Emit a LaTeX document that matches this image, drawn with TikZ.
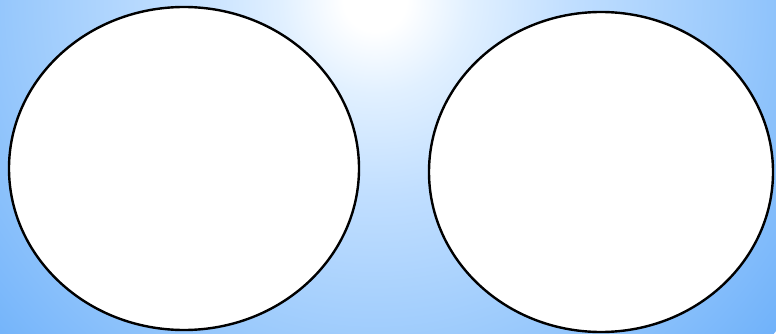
\documentclass[tikz,border=0pt]{standalone}
\usepackage{tikz}
\usetikzlibrary{shapes.geometric}
\definecolor{GlowBlueA}{RGB}{225,240,255}
\definecolor{GlowBlueB}{RGB}{192,222,255}
\definecolor{GlowBlueC}{RGB}{155,202,252}
\definecolor{GlowBlueD}{RGB}{112,178,250}
\pgfdeclareradialshading{skyglow}{\pgfpoint{0bp}{0bp}}{color(0bp)=(white);
  color(1.5bp)=(white); color(4.5bp)=(GlowBlueA); color(9.5bp)=(GlowBlueB);
  color(17bp)=(GlowBlueC); color(25bp)=(GlowBlueD); color(50bp)=(GlowBlueD)}

\begin{document}
\begin{tikzpicture}[x=1pt,y=-1pt,
  oval/.style={ellipse,draw=black,fill=white,line width=2.4pt,inner sep=0pt}]
\useasboundingbox (0,0) rectangle (776,334);
\begin{scope}
\clip (0,0) rectangle (776,334);
\shade[shading=skyglow] (375,0) circle (520);
\end{scope}
\node[oval,minimum width=350pt,minimum height=323pt] (left) at (184,168.5) {};
\node[oval,minimum width=344pt,minimum height=320pt] (right) at (601,172) {};
\end{tikzpicture}
\end{document}
